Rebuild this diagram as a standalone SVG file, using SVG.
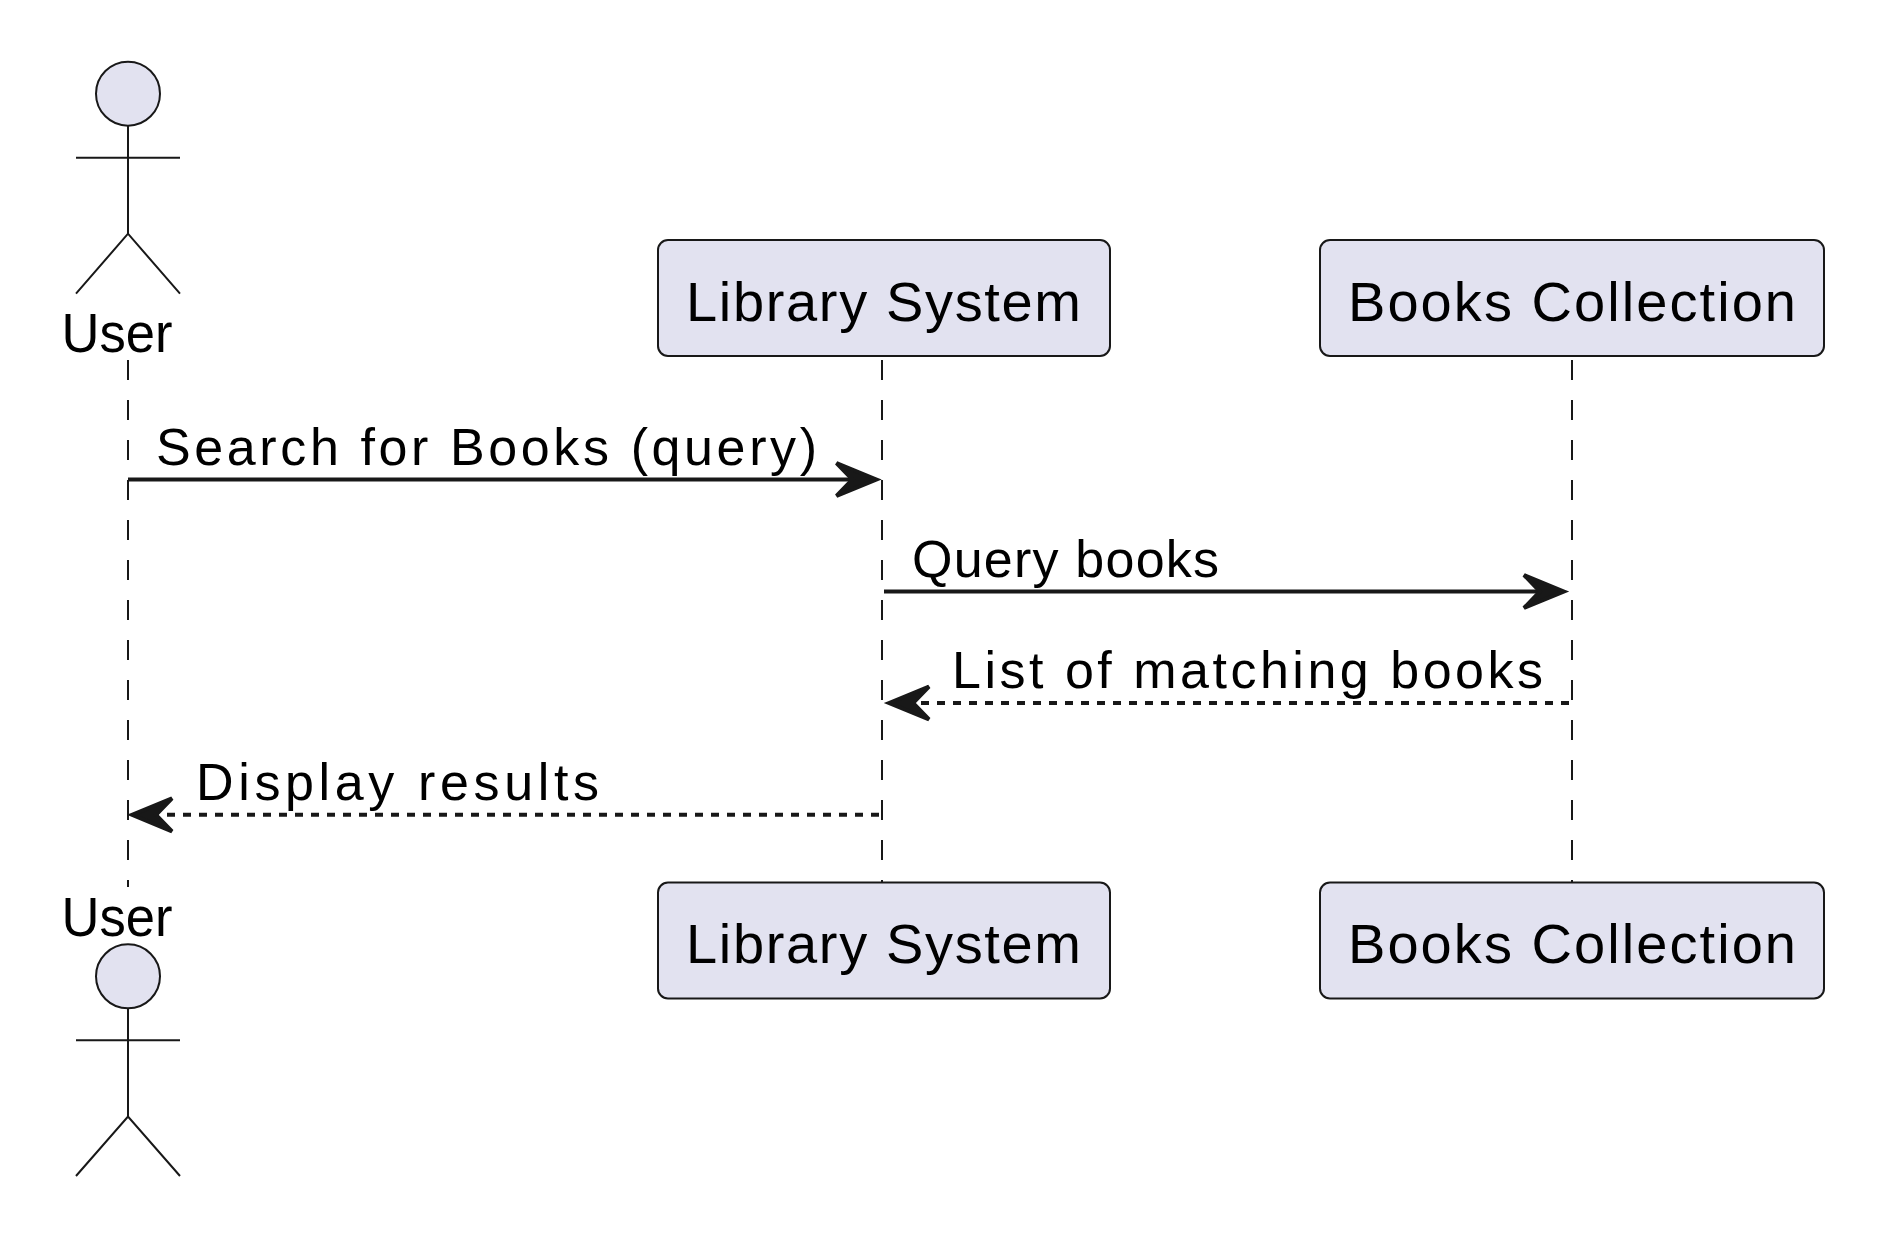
<svg xmlns="http://www.w3.org/2000/svg" width="1892" height="1248" viewBox="0 0 1892 1248">
<style>
text{font-family:"Liberation Sans",Arial,sans-serif;fill:#000}
.n{font-size:56px}
.m{font-size:52px}
.box,.head{fill:#E2E2F0;stroke:#181818;stroke-width:2}
.limb{fill:none;stroke:#181818;stroke-width:2}
.life{stroke:#181818;stroke-width:2;stroke-dasharray:20 20;fill:none}
.msg{stroke:#181818;stroke-width:4;fill:none}
.ret{stroke-dasharray:8 8}
.tip{fill:#181818;stroke:#181818;stroke-width:4}
</style>
<rect width="1892" height="1248" fill="#fff"/>
<g id="lifelines">
<line class="life" x1="128" y1="360" x2="128" y2="887"/>
<line class="life" x1="882" y1="360" x2="882" y2="882"/>
<line class="life" x1="1572" y1="360" x2="1572" y2="882"/>
</g>
<g id="user-top">
<circle class="head" cx="128" cy="93.7" r="32"/>
<path class="limb" d="M128 125.7V233.7M76 157.7H180M76 293.7L128 233.7L180 293.7"/>
<text class="n" x="61.5" y="351.7" textLength="111" lengthAdjust="spacingAndGlyphs">User</text>
</g>
<g id="library-top">
<rect class="box" x="658" y="240" width="452" height="116" rx="10" ry="10"/>
<text class="n" x="686" y="320.7" textLength="395">Library System</text>
</g>
<g id="books-top">
<rect class="box" x="1320" y="240" width="504" height="116" rx="10" ry="10"/>
<text class="n" x="1348" y="320.7" textLength="448">Books Collection</text>
</g>
<g id="user-bottom">
<text class="n" x="61.5" y="935.7" textLength="111" lengthAdjust="spacingAndGlyphs">User</text>
<circle class="head" cx="128" cy="976.3" r="32"/>
<path class="limb" d="M128 1008.3V1116.5M76 1040.3H180M76 1176L128 1116.5L180 1176"/>
</g>
<g id="library-bottom">
<rect class="box" x="658" y="882.5" width="452" height="116" rx="10" ry="10"/>
<text class="n" x="686" y="963.2" textLength="395">Library System</text>
</g>
<g id="books-bottom">
<rect class="box" x="1320" y="882.5" width="504" height="116" rx="10" ry="10"/>
<text class="n" x="1348" y="963.2" textLength="448">Books Collection</text>
</g>
<g id="connectors">
<line class="msg" x1="128" y1="479.5" x2="864" y2="479.5"/>
<polygon class="tip" points="876.5,479.5 836.5,463 852.5,479.5 836.5,496"/>
<text class="m" x="156" y="465" textLength="661">Search for Books (query)</text>
<line class="msg" x1="884" y1="591.5" x2="1552" y2="591.5"/>
<polygon class="tip" points="1564,591.5 1524,575 1540,591.5 1524,608"/>
<text class="m" x="912" y="577" textLength="307">Query books</text>
<line class="msg ret" x1="1569" y1="703" x2="904" y2="703"/>
<polygon class="tip" points="889,703 929,686.5 913,703 929,719.5"/>
<text class="m" x="952" y="688" textLength="591">List of matching books</text>
<line class="msg ret" x1="879" y1="814.8" x2="146" y2="814.8"/>
<polygon class="tip" points="132,814.8 172,798.3 156,814.8 172,831.3"/>
<text class="m" x="196" y="800" textLength="403">Display results</text>
</g>
</svg>
